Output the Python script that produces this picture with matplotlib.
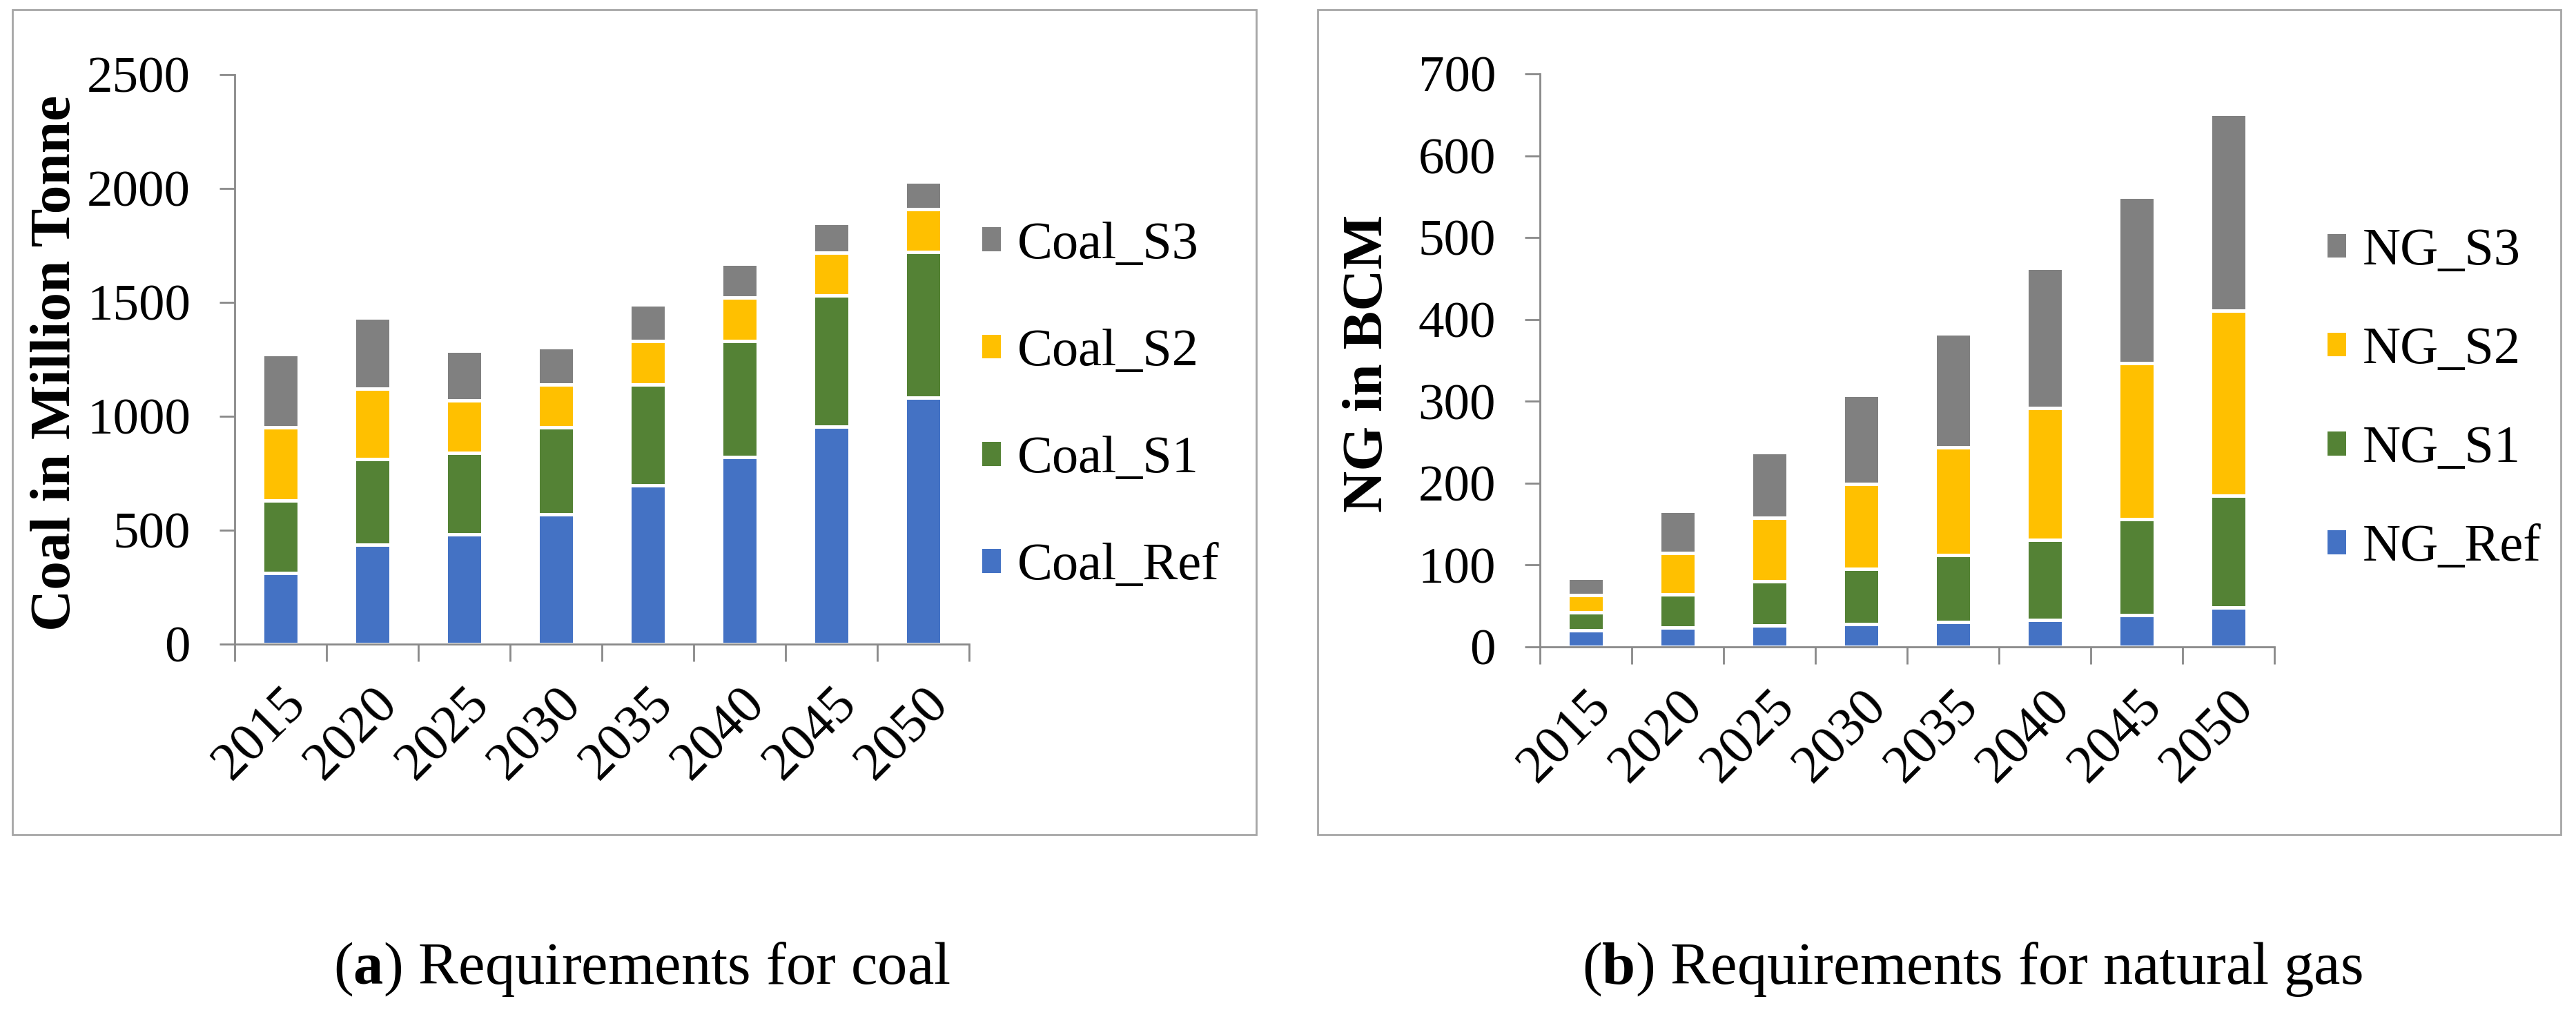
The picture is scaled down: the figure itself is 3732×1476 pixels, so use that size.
import matplotlib
matplotlib.use('Agg')
import matplotlib.pyplot as plt
import matplotlib.transforms as mtrans
import numpy as np
from matplotlib.patches import Rectangle

plt.rcParams['font.family'] = ['Liberation Serif', 'DejaVu Serif']
plt.rcParams['mathtext.fontset'] = 'custom'
plt.rcParams['mathtext.bf'] = 'Liberation Serif:bold'
plt.rcParams['mathtext.rm'] = 'Liberation Serif'

years = ['2015', '2020', '2025', '2030', '2035', '2040', '2045', '2050']

# coal, million tonne (stack pieces)
coal_ref = [312, 435, 483, 570, 698, 821, 954, 1082]
coal_s1 = [318, 377, 357, 381, 442, 510, 575, 638]
coal_s2 = [321, 309, 230, 189, 191, 190, 188, 188]
coal_s3 = [322, 312, 217, 164, 159, 148, 130, 121]

# natural gas, BCM (stack pieces)
ng_ref = [20, 24, 26, 28, 30, 33, 39, 48]
ng_s1 = [22, 40, 54, 67, 82, 98, 117, 137]
ng_s2 = [21, 51, 78, 104, 132, 161, 191, 226]
ng_s3 = [21, 51, 80, 109, 139, 171, 203, 240]

colors = ['#4472C4', '#548235', '#FFC000', '#808080']
axcol = '#898989'

W, H = 3732, 1476
fig = plt.figure(figsize=(W / 100, H / 100), dpi=100)


def fx(px):
    return px / W


def fy(py):
    return 1 - py / H


# panel borders
for x0, x1 in [(18, 1820), (1909, 3710)]:
    fig.patches.append(Rectangle((fx(x0), fy(1209)), fx(x1) - fx(x0), fy(14) - fy(1209),
                                 transform=fig.transFigure, fill=False,
                                 edgecolor='#A6A6A6', linewidth=2))


def panel(x0, x1, ytop, ybot, series, names, ymax, ystep, ylabel, ylab_x,
          leg_x, leg_y, spacing):
    ax = fig.add_axes([fx(x0), fy(ybot), fx(x1) - fx(x0), fy(ytop) - fy(ybot)])
    x = np.arange(len(years))
    bottom = np.zeros(len(years))
    handles = []
    for vals, c, n in zip(series, colors, names):
        b = ax.bar(x, vals, 0.4, bottom=bottom, color=c, edgecolor='white',
                   linewidth=3.6, label=n)
        bottom += np.array(vals)
        handles.append(b)
    ax.set_xlim(-0.5, len(years) - 0.5)
    ax.set_ylim(0, ymax)
    ax.set_yticks(np.arange(0, ymax + 1, ystep))
    ax.set_xticks(x)
    ax.set_xticklabels(years, rotation=45, ha='right', rotation_mode='anchor',
                       fontsize=56)
    shift = mtrans.ScaledTranslation(-0.39, 0, fig.dpi_scale_trans)
    for lab in ax.get_xticklabels():
        lab.set_transform(lab.get_transform() + shift)
    ax.set_xticks(np.arange(-0.5, len(years)), minor=True)
    ax.tick_params(axis='x', which='major', length=0, pad=36)
    ax.tick_params(axis='x', which='minor', length=18, width=2, color=axcol)
    ax.tick_params(axis='y', length=16, width=2, color=axcol, labelsize=54, pad=30)
    for s in ['top', 'right']:
        ax.spines[s].set_visible(False)
    for s in ['left', 'bottom']:
        ax.spines[s].set_color(axcol)
        ax.spines[s].set_linewidth(2)
    fig.text(ylab_x, fy(526), ylabel, rotation=90,
             ha='center', va='center', fontsize=60, fontweight='bold')
    fig.legend(handles[::-1], names[::-1], loc='center left',
               bbox_to_anchor=(leg_x, leg_y), frameon=False, fontsize=55,
               handlelength=0.42, handleheight=0.42, handletextpad=0.29,
               labelspacing=spacing, borderpad=0, borderaxespad=0)
    return ax


panel(340, 1404, 108, 933, [coal_ref, coal_s1, coal_s2, coal_s3],
      ['Coal_Ref', 'Coal_S1', 'Coal_S2', 'Coal_S3'],
      2500, 500, 'Coal in Million Tonne', fx(82), fx(1420), fy(588), 1.13)

panel(2231, 3295, 107, 937, [ng_ref, ng_s1, ng_s2, ng_s3],
      ['NG_Ref', 'NG_S1', 'NG_S2', 'NG_S3'],
      700, 100, 'NG in BCM', fx(1983), fx(3369), fy(579), 0.97)

fig.text(fx(930), fy(1404), r'($\mathbf{a}$) Requirements for coal',
         ha='center', va='center', fontsize=62.5)
fig.text(fx(2857), fy(1404), r'($\mathbf{b}$) Requirements for natural gas',
         ha='center', va='center', fontsize=62.5)

fig.savefig('out.png', dpi=100)
